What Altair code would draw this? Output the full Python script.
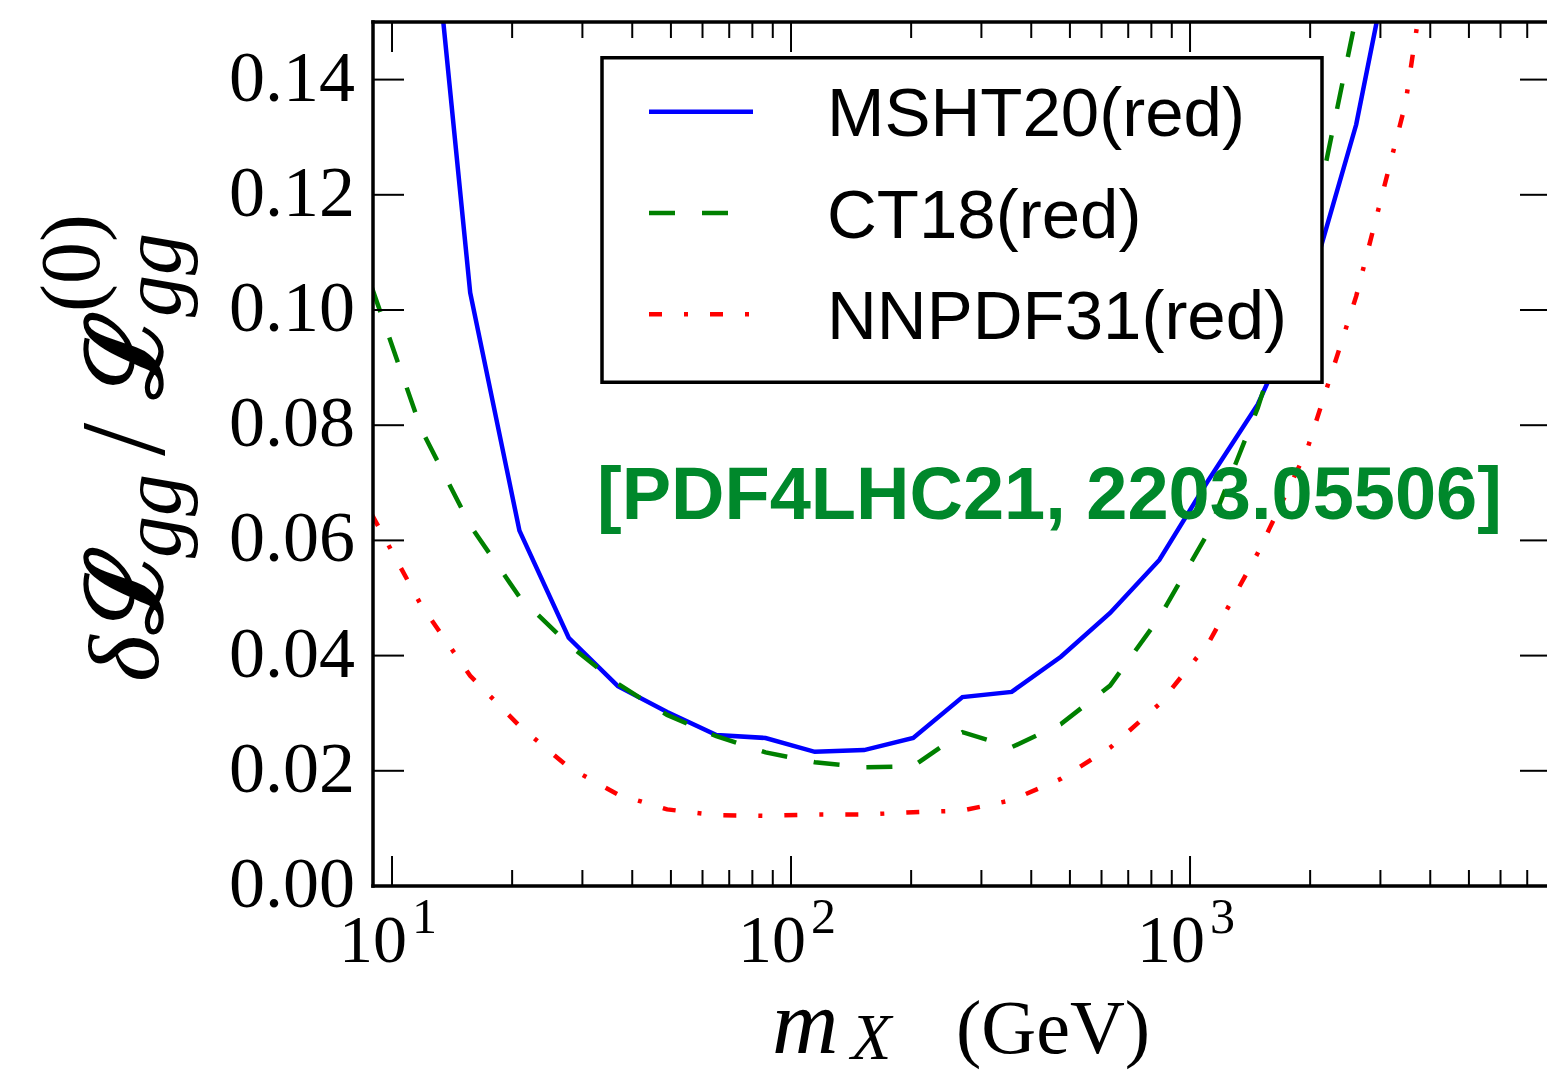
import altair as alt
import pandas as pd

# Invariant mass grid (GeV)
mass = [8.90, 11.82, 15.70, 20.86, 27.72, 36.82, 48.92, 64.99, 86.34, 114.7,
        152.4, 202.4, 268.9, 357.3, 474.6, 630.5, 837.7, 1113.0, 1478.0,
        1964.0, 2609.0, 3466.0, 4605.0]

# Relative gg-luminosity uncertainty for each reduced PDF set
msht20 = [None, 0.189, 0.103, 0.0617, 0.0431, 0.0347, 0.0302, 0.0262, 0.0257,
          0.0233, 0.0236, 0.0257, 0.0328, 0.0337, 0.0398, 0.0474, 0.0566,
          0.0705, 0.0836, 0.1026, 0.1322, 0.175, None]
ct18 = [0.1039, 0.0794, 0.0626, 0.0502, 0.0419, 0.0351, 0.0297, 0.0260,
        0.0232, 0.0215, 0.0206, 0.0208, 0.0267, 0.0241, 0.0281, 0.0348,
        0.0466, 0.0615, 0.0830, 0.1096, 0.151, None, None]
nnpdf31 = [0.0645, 0.0488, 0.0365, 0.0278, 0.0206, 0.0159, 0.0133, 0.0123,
           0.0122, 0.0124, 0.0124, 0.0128, 0.0131, 0.0149, 0.0186, 0.0240,
           0.0316, 0.0422, 0.0578, 0.0757, 0.1024, 0.1358, 0.193]

series_names = ["MSHT20(red)", "CT18(red)", "NNPDF31(red)"]
series_values = [msht20, ct18, nnpdf31]
series_colors = ["#0000ff", "#008000", "#ff0000"]
series_dashes = [None, [26, 27], [13, 22, 4, 22]]

# Axis ticks
x_major = [10, 100, 1000]
x_exponents = ["1", "2", "3"]
x_minor = [20, 30, 40, 50, 60, 70, 80, 90,
           200, 300, 400, 500, 600, 700, 800, 900,
           2000, 3000, 4000, 5000, 6000, 7000]
y_ticks = [0.0, 0.02, 0.04, 0.06, 0.08, 0.10, 0.12, 0.14]

annotation = "[PDF4LHC21, 2203.05506]"

W, H = 1174, 864
SERIF = "Liberation Serif"
SANS = "Liberation Sans"
LW = 4.5

xscale = alt.Scale(type="log", domain=[8.96, 7846], nice=False)
yscale = alt.Scale(domain=[0, 0.15], nice=False, zero=False)
one_row = alt.Data(values=[{}])


def line_props(col, dash):
    props = dict(color=col, strokeWidth=LW, strokeCap="butt")
    if dash is not None:
        props["strokeDash"] = dash
    return props


layers = []

# --- curves ---
for name, vals, col, dash in zip(series_names, series_values,
                                 series_colors, series_dashes):
    df = pd.DataFrame({"m": mass, "v": vals}).dropna()
    df["series"] = name
    line = alt.Chart(df).mark_line(
        strokeJoin="miter", clip=True, **line_props(col, dash)
    ).encode(
        x=alt.X("m:Q", scale=xscale, axis=None),
        y=alt.Y("v:Q", scale=yscale, axis=None),
        order="m:Q",
    )
    layers.append(line)

# --- inward ticks on all four sides ---
xt_major = pd.DataFrame({"m": x_major, "e": x_exponents})
xt_minor = pd.DataFrame({"m": x_minor})
yt = pd.DataFrame({"v": y_ticks})


def xticks(df, y0, y1):
    return alt.Chart(df).mark_rule(color="black", strokeWidth=2).encode(
        x=alt.X("m:Q", scale=xscale, axis=None),
        y=alt.value(y0), y2=alt.value(y1))


def yticks(x0, x1):
    return alt.Chart(yt).mark_rule(color="black", strokeWidth=2).encode(
        y=alt.Y("v:Q", scale=yscale, axis=None),
        x=alt.value(x0), x2=alt.value(x1))


layers += [
    xticks(xt_major, H, H - 30), xticks(xt_minor, H, H - 16),
    xticks(xt_major, 0, 30), xticks(xt_minor, 0, 16),
    yticks(0, 31), yticks(W - 27, W),
]

# --- frame (left, top, bottom) ---
for (x0, x1, y0, y1) in [(0, 0, 0, H), (0, W, 0, 0), (0, W, H, H)]:
    layers.append(alt.Chart(one_row).mark_rule(
        color="black", strokeWidth=3.5, strokeCap="square").encode(
        x=alt.value(x0), x2=alt.value(x1), y=alt.value(y0), y2=alt.value(y1)))

# --- y tick labels ---
layers.append(alt.Chart(yt).mark_text(
    align="right", baseline="alphabetic", dy=21, font=SERIF, fontSize=72,
    color="black").encode(
    y=alt.Y("v:Q", scale=yscale, axis=None), x=alt.value(-18),
    text=alt.Text("v:Q", format=".2f")))

# --- x tick labels 10^n ---
layers.append(alt.Chart(xt_major).mark_text(
    text="10", align="right", dx=15, baseline="alphabetic", font=SERIF,
    fontSize=68, color="black").encode(
    x=alt.X("m:Q", scale=xscale, axis=None), y=alt.value(939.7)))
layers.append(alt.Chart(xt_major).mark_text(
    align="left", dx=20, baseline="alphabetic", font=SERIF,
    fontSize=50, color="black").encode(
    x=alt.X("m:Q", scale=xscale, axis=None), y=alt.value(911),
    text="e:N"))


def label(txt, x, y, size, font=SERIF, style="normal", weight="normal",
          angle=0, color="black", align="left"):
    return alt.Chart(one_row).mark_text(
        text=txt, align=align, baseline="alphabetic", font=font,
        fontSize=size, fontStyle=style, fontWeight=weight, angle=angle,
        color=color).encode(x=alt.value(x), y=alt.value(y))


# --- x axis title: m_X (GeV) ---
layers += [
    label("m", 399, 1031.3, 92, style="italic"),
    label("X", 478, 1037, 66, style="italic"),
    label("(GeV)", 583, 1031.3, 76),
]

# --- y axis title: delta L_gg / L_gg^(0), rotated ---
layers += [
    label("δ", -215, 660, 100, style="italic", angle=270),
    label("ℒ", -212, 612, 105, font="DejaVu Serif", weight="bold", angle=270),
    label("gg", -193, 536, 84, style="italic", angle=270),
    label("/", -209, 434, 120, angle=270),
    label("ℒ", -212, 377, 105, font="DejaVu Serif", weight="bold", angle=270),
    label("gg", -193, 295, 84, style="italic", angle=270),
    label("(0)", -274, 290, 84, angle=270),
]

# --- reference annotation ---
layers.append(label(annotation, 224, 497.3, 74, font=SANS, weight="bold",
                    color="#00882b"))

# --- legend ---
lx0, lx1, ly0, ly1 = 229, 949, 35.7, 360.3
layers.append(alt.Chart(one_row).mark_rect(
    fill="white", stroke="black", strokeWidth=3.5).encode(
    x=alt.value(lx0), x2=alt.value(lx1), y=alt.value(ly0), y2=alt.value(ly1)))
for i, (name, col, dash) in enumerate(zip(series_names, series_colors,
                                          series_dashes)):
    ry = 89.7 + i * 101.3
    layers.append(alt.Chart(one_row).mark_rule(**line_props(col, dash)).encode(
        x=alt.value(276), x2=alt.value(380), y=alt.value(ry)))
    layers.append(label(name, 454, ry + 24.5, 69, font=SANS))

chart = alt.layer(*layers).properties(
    width=W, height=H,
    padding={"left": 373, "top": 22, "right": 0, "bottom": 186},
    autosize=alt.AutoSizeParams(type="none"),
    background="white",
).configure_view(stroke=None)

chart.save("out.html", embed_options={"renderer": "svg", "actions": False})
